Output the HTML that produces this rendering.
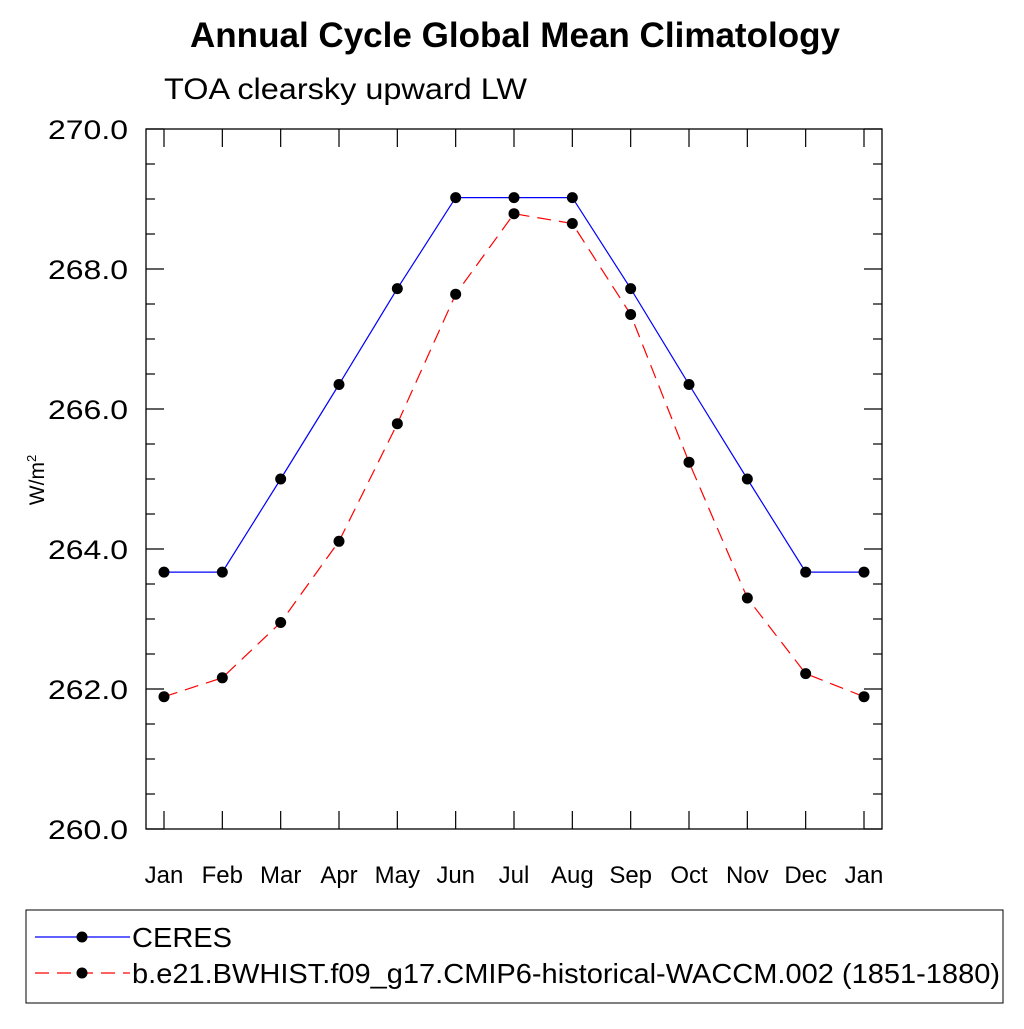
<!DOCTYPE html>
<html><head><meta charset="utf-8"><style>
body{margin:0;background:#fff;}
svg text{font-family:"Liberation Sans",sans-serif;}
</style></head><body>
<svg width="1024" height="1024" id="chart">
<text x="515" y="47" text-anchor="middle" font-size="35" font-weight="bold" textLength="650" lengthAdjust="spacingAndGlyphs">Annual Cycle Global Mean Climatology</text>
<text x="164" y="99" font-size="30" textLength="363" lengthAdjust="spacingAndGlyphs">TOA clearsky upward LW</text>
<text transform="translate(44,480) rotate(-90)" text-anchor="middle" font-size="21">W/m<tspan dy="-8" font-size="13">2</tspan></text>
<rect x="146" y="129" width="736" height="700" fill="none" stroke="#000" stroke-width="1.3"/>
<g id="axes"></g>
<g id="series"></g>
<rect x="26" y="910" width="977" height="93" fill="none" stroke="#000" stroke-width="1"/>
<g>
<line x1="35" y1="937" x2="130" y2="937" stroke="#0000ff" stroke-width="1.2"/>
<circle cx="82" cy="937" r="5.5" fill="#000"/>
<text x="132" y="947" font-size="28" textLength="100" lengthAdjust="spacingAndGlyphs">CERES</text>
</g>
<g>
<line x1="35" y1="973" x2="130" y2="973" stroke="#ff0000" stroke-width="1.2" stroke-dasharray="14,8"/>
<circle cx="82" cy="973" r="5.5" fill="#000"/>
<text x="132" y="983" font-size="28" textLength="868" lengthAdjust="spacingAndGlyphs">b.e21.BWHIST.f09_g17.CMIP6-historical-WACCM.002 (1851-1880)</text>
</g>
</svg>
<script>
const months=["Jan","Feb","Mar","Apr","May","Jun","Jul","Aug","Sep","Oct","Nov","Dec","Jan"];
const ceres=[263.67,263.67,265.0,266.35,267.72,269.02,269.02,269.02,267.72,266.35,265.0,263.67,263.67];
const model=[261.89,262.16,262.95,264.11,265.79,267.64,268.79,268.65,267.35,265.24,263.30,262.22,261.89];
const yTicks=[260,262,264,266,268,270];
const yLabels=["260.0","262.0","264.0","266.0","268.0","270.0"];
const NS="http://www.w3.org/2000/svg";
const X=i=>164+i*(700/12);
const Y=v=>829-(v-260)*70;
const ax=document.getElementById('axes'),se=document.getElementById('series');
function mk(t,a,p){const e=document.createElementNS(NS,t);for(const k in a)e.setAttribute(k,a[k]);p.appendChild(e);return e;}
months.forEach((m,i)=>{
 const x=X(i);
 const t1=mk('line',{x1:x,y1:829,x2:x,y2:811,stroke:'#000','stroke-width':1.2},ax);
 
 
 const t2=mk('line',{x1:x,y1:129,x2:x,y2:147,stroke:'#000','stroke-width':1.2},ax);
 
 
 const l=mk('text',{x:x,y:883,'text-anchor':'middle','font-size':24},ax);l.textContent=m;
 
 
});
for(let v=260;v<=270.001;v+=0.5){
 const major=Math.abs(v/2-Math.round(v/2))<1e-6;const len=major?18:9;const y=Y(v);
 const a=mk('line',{x1:146,y1:y,x2:146+len,y2:y,stroke:'#000','stroke-width':1.2},ax);
 
 
 const b=mk('line',{x1:882,y1:y,x2:882-len,y2:y,stroke:'#000','stroke-width':1.2},ax);
 
 
}
yTicks.forEach((v,i)=>{
 const l=mk('text',{x:48,y:Y(v)+10,'font-size':27,textLength:80,lengthAdjust:'spacingAndGlyphs'},ax);l.textContent=yLabels[i];
 
 
});
function draw(vals,color,dash,name){
 const p=mk('polyline',{points:vals.map((v,i)=>X(i)+','+Y(v)).join(' '),fill:'none',stroke:color,'stroke-width':1.2,'stroke-dasharray':dash},se);
 
 
 vals.forEach((v,i)=>{const c=mk('circle',{cx:X(i),cy:Y(v),r:5.5,fill:'#000'},se);
 
 });
}
draw(model,'#ff0000','14,8','model');
draw(ceres,'#0000ff','none','ceres');
</script>
</body></html>
